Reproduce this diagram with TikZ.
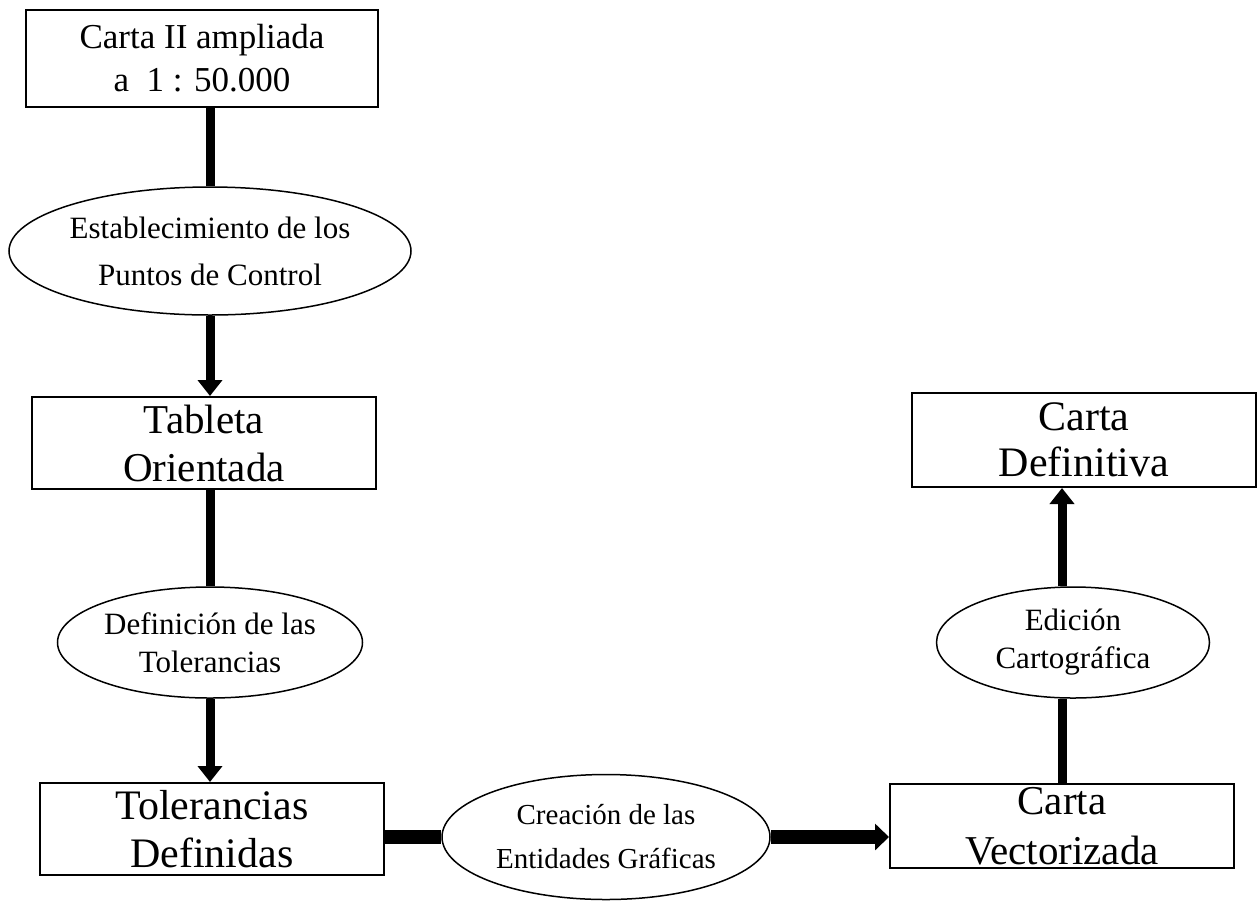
\documentclass[tikz,border=0pt]{standalone}
\usepackage{fontspec}
\setmainfont{Liberation Serif}
\usetikzlibrary{shapes.geometric,arrows.meta}

\begin{document}
\begin{tikzpicture}[x=1pt, y=-1pt,
  box/.style={rectangle, draw, line width=2pt, inner sep=0pt, align=center, minimum width=344pt},
  oval/.style={ellipse, draw, line width=1.5pt, inner sep=0pt, align=center, font=\fontsize{31}{38}\selectfont},
  link/.style={line width=9pt},
  flow/.style={line width=9pt, -{Triangle[width=24pt,length=16pt]}},
  wide/.style={line width=14pt},
  wideflow/.style={line width=14pt, -{Triangle[width=26pt,length=14pt]}}]
  \useasboundingbox (0,0) rectangle (1257,903);
  \node[box, minimum width=352pt, minimum height=97pt, font=\fontsize{35}{43}\selectfont] (ampliada) at (202,58.5) {Carta II ampliada\\a~~1 : 50.000};
  \node[oval, minimum width=402pt, minimum height=128pt, font=\fontsize{31}{47}\selectfont] (control) at (210,251) {Establecimiento de los\\Puntos de Control};
  \node[box, minimum height=92pt, font=\fontsize{41}{48}\selectfont] (tableta) at (204,443) {Tableta\\Orientada};
  \node[oval, minimum width=305pt, minimum height=111pt] (deftol) at (210,642.5) {Definición de las\\Tolerancias};
  \node[box, minimum height=92pt, font=\fontsize{42}{48}\selectfont] (tolerancias) at (212,829) {Tolerancias\\Definidas};
  \node[oval, minimum width=328pt, minimum height=125pt, font=\fontsize{29}{44}\selectfont] (entidades) at (606,837) {Creación de las\\Entidades Gráficas};
  \node[box, minimum height=84pt, font=\fontsize{41}{50}\selectfont] (vectorizada) at (1062,826) {Carta\\Vectorizada};
  \node[oval, minimum width=273pt, minimum height=111pt] (edicion) at (1073,642.5) {Edición\\Cartográfica};
  \node[box, minimum height=94pt, font=\fontsize{42}{46}\selectfont] (definitiva) at (1084,440) {Carta\\Definitiva};

  \draw[link] (control.north) -- (control.north |- ampliada.south);
  \draw[flow] (control.south) -- (control.south |- tableta.north);
  \draw[link] (deftol.north) -- (deftol.north |- tableta.south);
  \draw[flow] (deftol.south) -- (deftol.south |- tolerancias.north);
  \draw[wide] (tolerancias.east |- entidades.west) -- (entidades.west);
  \draw[wideflow] (entidades.east) -- (entidades.east -| vectorizada.west);
  \draw[link] (vectorizada.north) -- (vectorizada.north |- edicion.south);
  \draw[flow] (vectorizada.north |- edicion.north) -- (vectorizada.north |- definitiva.south);
\end{tikzpicture}
\end{document}
